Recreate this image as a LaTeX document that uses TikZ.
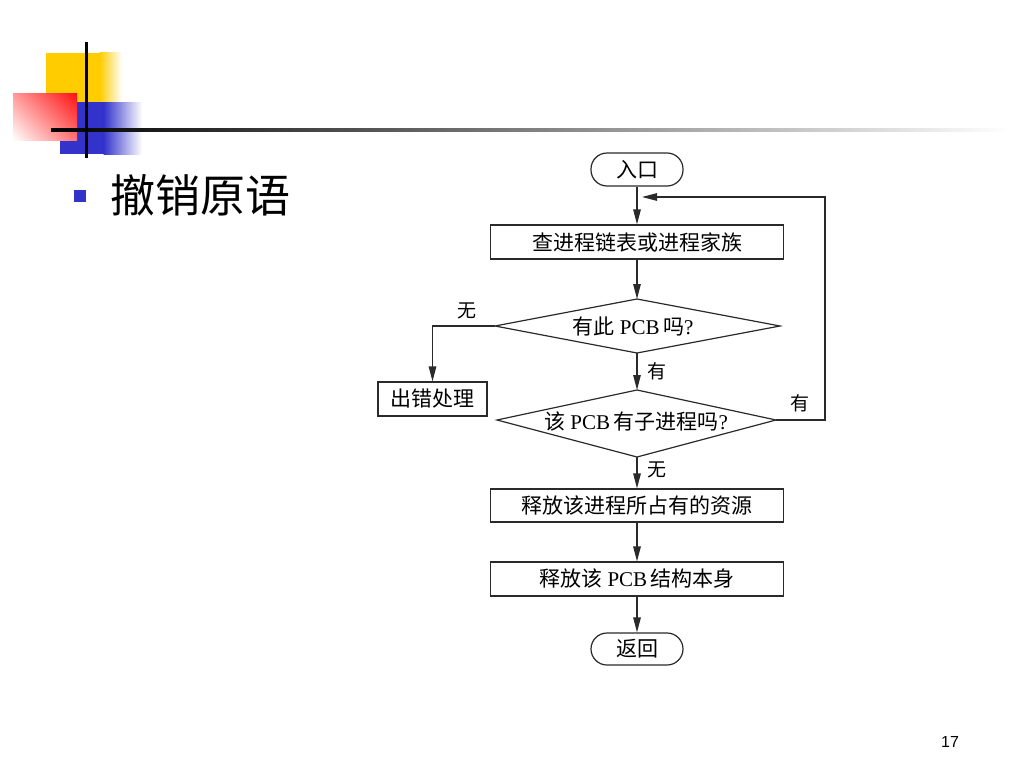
\documentclass[tikz,border=0pt]{standalone}
\usepackage{fontspec}
\setmainfont{Liberation Serif}
\newfontfamily\cjk{Noto Sans CJK SC}
\usetikzlibrary{arrows.meta,shapes.geometric,shadings}
\definecolor{dyel}{HTML}{FFCC00}
\definecolor{dred}{HTML}{FF1010}
\definecolor{dblue}{HTML}{3333CC}
\definecolor{ln}{HTML}{2A2A2A}
\tikzset{
  conn/.style={draw=ln,line width=1.2pt},
  arr/.style={conn,-{Triangle[length=15pt,width=7.5pt]}},
  boxn/.style={draw=ln,line width=1.2pt,rectangle,inner sep=0pt,font=\fontsize{21}{24}\selectfont},
  term/.style={boxn,rounded corners=16pt,minimum width=92pt},
  lab/.style={font=\fontsize{19}{21}\selectfont\cjk,inner sep=0pt},
  dtext/.style={font=\fontsize{21}{24}\selectfont,inner sep=0pt}
}
\begin{document}
\begin{tikzpicture}[x=1pt,y=-1pt]
\useasboundingbox (0,0) rectangle (1024,768);
\fill[white] (0,0) rectangle (1024,768);
% decoration
\fill[dyel] (46,53) rectangle (100,102);
\shade[left color=dyel,right color=white] (99.5,53) rectangle (122,102);
\fill[dblue] (60,102) rectangle (104,154);
\shade[left color=dblue,right color=white] (103.5,102) rectangle (142,154);
\shade[upper right=dred,lower left=white,upper left=red!40,lower right=red!55] (13,93) rectangle (77,140);
\shade[left color=black,right color=white] (51,128.5) rectangle (1010,131.5);
\fill[black] (84.5,42) rectangle (87.5,158);
% title
\fill[dblue] (74,190) rectangle (86,202);
\node[anchor=west,inner sep=0pt,font=\fontsize{45}{48}\selectfont\cjk] (title) at (110,195) {撤销原语};
% flowchart
\node[term,minimum height=33pt] (entry) at (637,169.5) {\cjk 入口};
\node[boxn,minimum width=293pt,minimum height=34pt] (b1) at (637,242) {\cjk 查进程链表或进程家族};
\coordinate (d1t) at (637,299);
\coordinate (d1b) at (637,353);
\coordinate (d1l) at (495,326);
\coordinate (d1r) at (780,326);
\draw[conn] (d1t) -- (d1r) -- (d1b) -- (d1l) -- cycle;
\node[dtext] (d1) at (633,327) {{\cjk 有此} PCB\,{\cjk 吗}?};
\node[boxn,minimum width=109pt,minimum height=34pt] (err) at (432.5,399) {\cjk 出错处理};
\coordinate (d2t) at (637,390);
\coordinate (d2b) at (637,457);
\coordinate (d2l) at (497,420);
\coordinate (d2r) at (776,420);
\draw[conn] (d2t) -- (d2r) -- (d2b) -- (d2l) -- cycle;
\node[dtext] (d2) at (636,422) {{\cjk 该} PCB\,{\cjk 有子进程吗}?};
\node[boxn,minimum width=293pt,minimum height=33pt] (b3) at (637,505.5) {\cjk 释放该进程所占有的资源};
\node[boxn,minimum width=293pt,minimum height=34pt] (b4) at (637,579) {{\cjk 释放该} PCB\,{\cjk 结构本身}};
\node[term,minimum height=32pt] (ret) at (637,649) {\cjk 返回};
\coordinate (loopj) at (642,197);
\coordinate (loopa) at (825,420);
\coordinate (loopb) at (825,197);
\coordinate (errc) at (432.5,326);
% connectors
\draw[arr] (entry.south) -- (b1.north);
\draw[arr] (d2r) -- (loopa) -- (loopb) -- (loopj);
\draw[arr] (b1.south) -- (d1t);
\draw[arr] (d1l) -- (errc) -- (err.north);
\draw[arr] (d1b) -- (d2t);
\draw[arr] (d2b) -- (b3.north);
\draw[arr] (b3.south) -- (b4.north);
\draw[arr] (b4.south) -- (ret.north);
% labels
\node[lab] (l1) at (467,311) {无};
\node[lab] (l2) at (657,371) {有};
\node[lab] (l3) at (800,403) {有};
\node[lab] (l4) at (657,470) {无};
% page number
\node[font=\fontsize{16}{18}\selectfont\fontspec{Liberation Sans},inner sep=0pt] (pg) at (950,742) {17};
\end{tikzpicture}
\end{document}
